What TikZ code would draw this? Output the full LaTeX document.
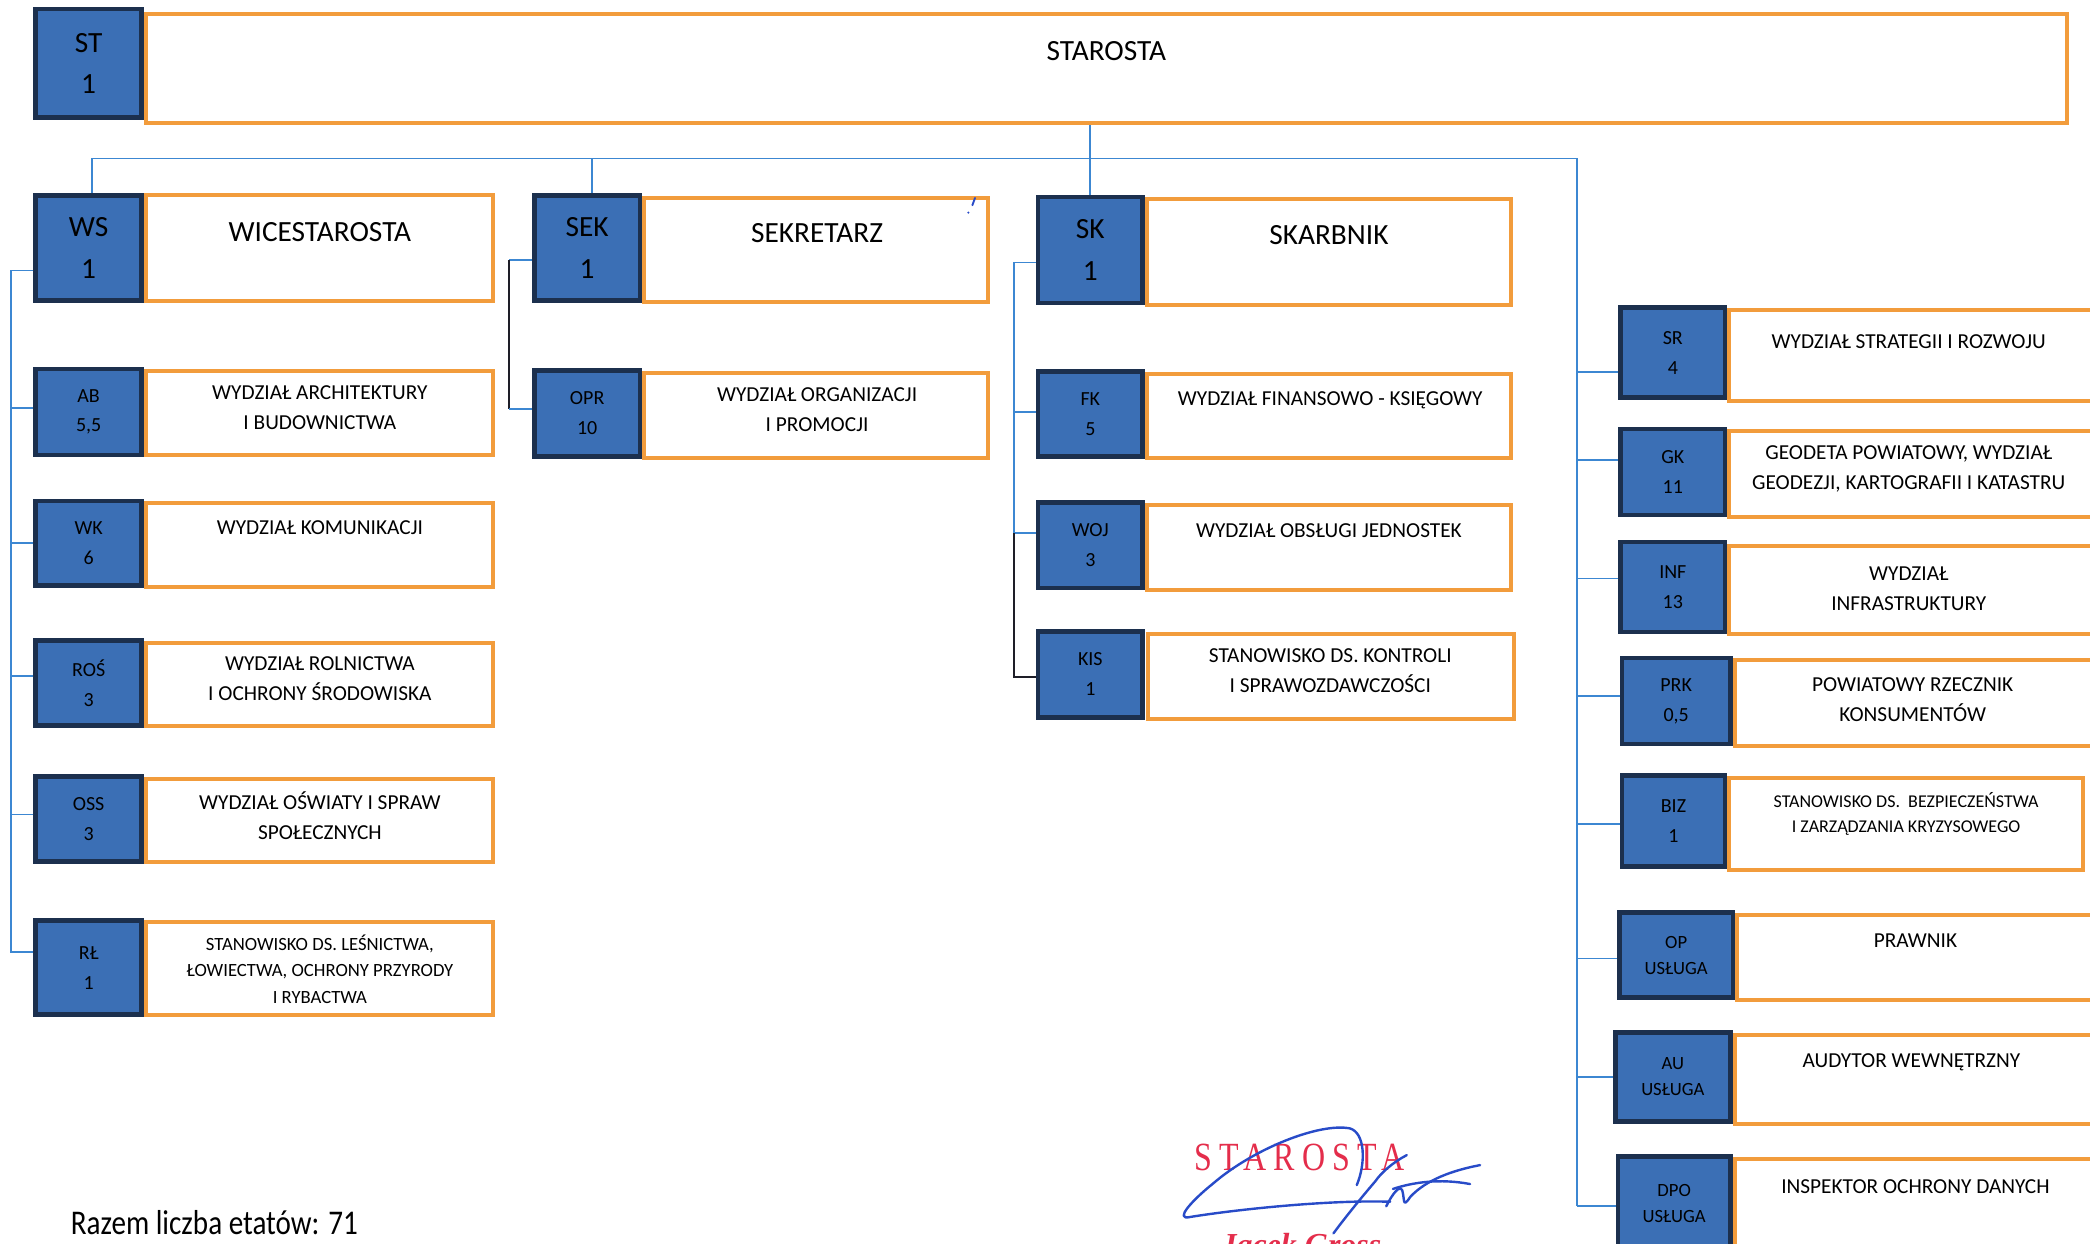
\documentclass[tikz,border=0pt]{standalone}
\usepackage{fontspec}
\setmainfont{Carlito}
\newfontfamily\condfont[FakeStretch=0.84]{Carlito}
\newfontfamily\stampfont[FakeStretch=0.8,LetterSpace=18]{Liberation Serif}
\newfontfamily\namefont{Liberation Serif}
\usetikzlibrary{calc}
\definecolor{cfill}{RGB}{59,111,181}
\definecolor{cnavy}{RGB}{28,48,78}
\definecolor{corange}{RGB}{242,156,60}
\definecolor{cline}{RGB}{60,135,210}
\definecolor{cdark}{RGB}{30,30,40}
\definecolor{cred}{RGB}{228,45,75}
\definecolor{cink}{RGB}{40,75,200}
\tikzset{
  code/.style={draw=cnavy, fill=cfill, line width=3.5pt, inner sep=0pt, align=center, font=\fontsize{15}{22.5}\selectfont},
  bigcode/.style={code, font=\fontsize{22}{31}\selectfont},
  lab/.style={draw=corange, line width=3pt, fill=white, inner sep=0pt},
  ltext/.style={align=center, inner sep=0pt, font=\fontsize{16}{22.5}\selectfont},
  htext/.style={inner sep=0pt, font=\fontsize{22}{26}\selectfont},
  stext/.style={align=center, inner sep=0pt, font=\fontsize{14}{20}\selectfont},
  conn/.style={draw=cline, line width=1.3pt},
  dconn/.style={draw=cdark, line width=1.3pt},
  ink/.style={draw=cink, line width=1.8pt, line cap=round, line join=round},
}
\begin{document}
\begin{tikzpicture}[x=1pt,y=-1pt]
\useasboundingbox (0,0) rectangle (1568,933);

% ---------- connector anchor points (fixed) ----------
\coordinate (bus) at (0,119);
\coordinate (lsp) at (8,0);
\coordinate (ssp) at (382,0);
\coordinate (ksp) at (761,0);
\coordinate (rsp) at (1183,0);

% ---------- orange label boxes ----------
\node[lab, minimum width=1441pt, minimum height=82pt] (stL) at (830,51.5) {};
\node[lab, minimum width=260pt, minimum height=79pt] (wsL) at (239.5,186) {};
\node[lab, minimum width=258pt, minimum height=78pt] (sekL) at (612.5,187.5) {};
\node[lab, minimum width=273pt, minimum height=79pt] (skL) at (997,189) {};
\node[lab, minimum width=260pt, minimum height=63pt] (abL) at (239.5,310) {};
\node[lab, minimum width=260pt, minimum height=63pt] (wkL) at (239.5,409) {};
\node[lab, minimum width=260pt, minimum height=62pt] (rosL) at (239.5,513.5) {};
\node[lab, minimum width=260pt, minimum height=62pt] (ossL) at (239.5,615.5) {};
\node[lab, minimum width=260pt, minimum height=70pt] (rlL) at (239.5,726.5) {};
\node[lab, minimum width=258pt, minimum height=64pt] (oprL) at (612.5,311.5) {};
\node[lab, minimum width=273pt, minimum height=63pt] (fkL) at (997,312) {};
\node[lab, minimum width=273pt, minimum height=64pt] (wojL) at (997,410.5) {};
\node[lab, minimum width=274pt, minimum height=64pt] (kisL) at (998.5,507.5) {};
\node[lab, minimum width=281pt, minimum height=68pt] (srL) at (1438,266.5) {};
\node[lab, minimum width=281pt, minimum height=64pt] (gkL) at (1438,355.5) {};
\node[lab, minimum width=281pt, minimum height=66pt] (infL) at (1438,442.5) {};
\node[lab, minimum width=277pt, minimum height=64pt] (prkL) at (1440,527.5) {};
\node[lab, minimum width=265pt, minimum height=69pt] (bizL) at (1430,618) {};
\node[lab, minimum width=275pt, minimum height=64pt] (opL) at (1441,718.5) {};
\node[lab, minimum width=277pt, minimum height=67pt] (auL) at (1440,810) {};
\node[lab, minimum width=277pt, minimum height=74pt] (dpoL) at (1440,906.5) {};

% ---------- blue code boxes ----------
\node[bigcode, minimum width=79.5pt, minimum height=81.5pt] (st) at (66.5,47.5) {ST\\1};
\node[bigcode, minimum width=79.5pt, minimum height=78.5pt] (ws) at (66.5,186) {WS\\1};
\node[bigcode, minimum width=79.5pt, minimum height=78.5pt] (sek) at (440.5,186) {SEK\\1};
\node[bigcode, minimum width=78.5pt, minimum height=79.5pt] (sk) at (818,187.5) {SK\\1};
\node[code, minimum width=79.5pt, minimum height=64.5pt] (ab) at (66.5,309) {AB\\5,5};
\node[code, minimum width=79.5pt, minimum height=63.5pt] (wk) at (66.5,407.5) {WK\\6};
\node[code, minimum width=79.5pt, minimum height=63.5pt] (ros) at (66.5,512.5) {ROŚ\\3};
\node[code, minimum width=79.5pt, minimum height=63.5pt] (oss) at (66.5,614.5) {OSS\\3};
\node[code, minimum width=79.5pt, minimum height=70.5pt] (rl) at (66.5,726) {RŁ\\1};
\node[code, minimum width=79.5pt, minimum height=64.5pt] (opr) at (440.5,310) {OPR\\10};
\node[code, minimum width=78.5pt, minimum height=63.5pt] (fk) at (818,310.5) {FK\\5};
\node[code, minimum width=78.5pt, minimum height=64.5pt] (woj) at (818,409) {WOJ\\3};
\node[code, minimum width=78.5pt, minimum height=64.5pt] (kis) at (818,506) {KIS\\1};
\node[code, minimum width=78.5pt, minimum height=67.5pt] (sr) at (1255,264.5) {SR\\4};
\node[code, minimum width=78.5pt, minimum height=64.5pt] (gk) at (1255,354) {GK\\11};
\node[code, minimum width=78.5pt, minimum height=67.5pt] (inf) at (1255,440.5) {INF\\13};
\node[code, minimum width=81.5pt, minimum height=64.5pt] (prk) at (1257.5,526) {PRK\\0,5};
\node[code, minimum width=77.5pt, minimum height=68.5pt] (biz) at (1255.5,616) {BIZ\\1};
\node[code, minimum width=85.5pt, minimum height=63.5pt, font=\fontsize{14}{19.5}\selectfont] (op) at (1257.5,716.5) {OP\\USŁUGA};
\node[code, minimum width=86.5pt, minimum height=66.5pt, font=\fontsize{14}{19.5}\selectfont] (au) at (1255,808) {AU\\USŁUGA};
\node[code, minimum width=84.5pt, minimum height=70.5pt, font=\fontsize{14}{19.5}\selectfont] (dpo) at (1256,903) {DPO\\USŁUGA};

% ---------- texts in label boxes ----------
\node[htext] (stT) at (830,38) {STAROSTA};
\node[htext] (wsT) at (240,174) {WICESTAROSTA};
\node[htext] (sekT) at (613,175) {SEKRETARZ};
\node[htext] (skT) at (997,176) {SKARBNIK};
\node[ltext] (abT) at (240,306) {WYDZIAŁ ARCHITEKTURY\\I BUDOWNICTWA};
\node[ltext] (wkT) at (240,396) {WYDZIAŁ KOMUNIKACJI};
\node[ltext] (rosT) at (240,509.5) {WYDZIAŁ ROLNICTWA\\I OCHRONY ŚRODOWISKA};
\node[ltext] (ossT) at (240,612) {WYDZIAŁ OŚWIATY I SPRAW\\SPOŁECZNYCH};
\node[stext] (rlT) at (240,727) {STANOWISKO DS. LEŚNICTWA,\\ŁOWIECTWA, OCHRONY PRZYRODY\\I RYBACTWA};
\node[ltext] (oprT) at (613,307) {WYDZIAŁ ORGANIZACJI\\I PROMOCJI};
\node[ltext] (fkT) at (998,300) {WYDZIAŁ FINANSOWO - KSIĘGOWY};
\node[ltext] (wojT) at (997,398) {WYDZIAŁ OBSŁUGI JEDNOSTEK};
\node[ltext] (kisT) at (998,503) {STANOWISKO DS. KONTROLI\\I SPRAWOZDAWCZOŚCI};
\node[ltext] (srT) at (1432,256) {WYDZIAŁ STRATEGII I ROZWOJU};
\node[ltext] (gkT) at (1432,352) {GEODETA POWIATOWY, WYDZIAŁ\\GEODEZJI,\ KARTOGRAFII I KATASTRU};
\node[ltext] (infT) at (1432,441.5) {WYDZIAŁ\\INFRASTRUKTURY};
\node[ltext] (prkT) at (1435,525) {POWIATOWY RZECZNIK\\KONSUMENTÓW};
\node[stext, font=\fontsize{13.5}{19}\selectfont] (bizT) at (1430,610.5) {STANOWISKO DS.\ \ BEZPIECZEŃSTWA\\I ZARZĄDZANIA KRYZYSOWEGO};
\node[ltext] (opT) at (1437,706) {PRAWNIK};
\node[ltext] (auT) at (1434,797) {AUDYTOR WEWNĘTRZNY};
\node[ltext] (dpoT) at (1437,890) {INSPEKTOR OCHRONY DANYCH};

% ---------- branch points on the boxes ----------
\coordinate (ws-top) at ($(ws.north)+(2.5,0)$);
\coordinate (sek-top) at ($(sek.north)+(3.5,0)$);
\coordinate (ws-in) at ($(ws.west)+(0,17)$);
\coordinate (ab-in) at ($(ab.west)+(0,-3)$);
\coordinate (wk-in) at ($(wk.west)+(0,0)$);
\coordinate (ros-in) at ($(ros.west)+(0,-5.5)$);
\coordinate (oss-in) at ($(oss.west)+(0,-3.5)$);
\coordinate (rl-in) at ($(rl.west)+(0,-12)$);
\coordinate (sek-in) at ($(sek.west)+(0,9)$);
\coordinate (opr-in) at ($(opr.west)+(0,-3)$);
\coordinate (sk-in) at ($(sk.west)+(0,9.5)$);
\coordinate (fk-in) at ($(fk.west)+(0,-1.5)$);
\coordinate (woj-in) at ($(woj.west)+(0,-9)$);
\coordinate (kis-in) at ($(kis.west)+(0,2)$);
\coordinate (sr-in) at ($(sr.west)+(0,14.5)$);
\coordinate (gk-in) at ($(gk.west)+(0,-9)$);
\coordinate (inf-in) at ($(inf.west)+(0,-6.5)$);
\coordinate (prk-in) at ($(prk.west)+(0,-4)$);
\coordinate (biz-in) at ($(biz.west)+(0,2)$);
\coordinate (op-in) at ($(op.west)+(0,2.5)$);
\coordinate (au-in) at ($(au.west)+(0,0)$);
\coordinate (dpo-in) at ($(dpo.west)+(0,2)$);

% ---------- connectors ----------
\draw[conn] (sk.north |- stL.south) -- (sk.north);
\draw[conn] (ws-top) -- (ws-top |- bus) -- (rsp |- bus) -- (rsp |- dpo-in);
\draw[conn] (sek-top) -- (sek-top |- bus);
\draw[conn] (ws-in) -- (ws-in -| lsp) -- (rl-in -| lsp) -- (rl-in);
\foreach \n in {ab,wk,ros,oss} \draw[conn] (\n-in) -- (\n-in -| lsp);
\draw[conn] (sek-in) -- (sek-in -| ssp);
\draw[dconn] (sek-in -| ssp) -- (opr-in -| ssp);
\draw[conn] (opr-in -| ssp) -- (opr-in);
\draw[conn] (sk-in) -- (sk-in -| ksp) -- (woj-in -| ksp);
\draw[conn] (fk-in) -- (fk-in -| ksp);
\draw[conn] (woj-in) -- (woj-in -| ksp);
\draw[dconn] (woj-in -| ksp) -- (kis-in -| ksp) -- (kis-in);
\foreach \n in {sr,gk,inf,prk,biz,op,au,dpo} \draw[conn] (\n-in) -- (\n-in -| rsp);

% ---------- footer ----------
\node[anchor=west, inner sep=0pt, font=\condfont\fontsize{26}{30}\selectfont] (razem) at (53,917) {Razem liczba etatów: 71};
\node[inner sep=0pt, text=cred, font=\stampfont\fontsize{30}{32}\selectfont] (stamp) at (975,868) {STAROSTA};
\node[anchor=north, inner sep=0pt, text=cred, font=\namefont\bfseries\itshape\fontsize{24}{28}\selectfont] (name) at (976,925) {Jacek Gross};

% signature
\draw[ink] (1017.9,889.1) .. controls (1025,872) and (1024,850) .. (1012.9,846.6)
  .. controls (990,842) and (940,862) .. (910,888)
  .. controls (895,900) and (880,916) .. (893,913)
  .. controls (930,907) and (1000,900) .. (1042.9,901.6);
\draw[ink] (1055.4,866.6) .. controls (1045,872) and (1036,880) .. (1032,886)
  .. controls (1020,900) and (1008,915) .. (1000.4,925.3);
\draw[ink] (1040,905) .. controls (1045,895) and (1050,889) .. (1052,893)
  .. controls (1054,900) and (1052,907) .. (1058,898)
  .. controls (1070,885) and (1090,878) .. (1110.4,874.1);
\draw[ink] (1045,892) .. controls (1060,887) and (1080,884) .. (1102.9,888.3);
% small ink mark
\draw[ink, line width=1.4pt] (731.5,148.5) -- (729.5,154);
\fill[cink] (726.5,159.5) circle (0.9);
\end{tikzpicture}
\end{document}
